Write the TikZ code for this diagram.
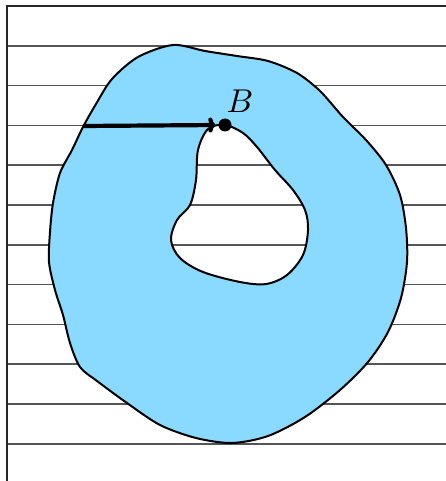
\documentclass[tikz,border=0pt]{standalone}
\usetikzlibrary{arrows.meta}
\definecolor{blobblue}{RGB}{138,217,255}
\definecolor{ruleline}{RGB}{85,85,85}
\begin{document}
\begin{tikzpicture}[x=1pt,y=-1pt,
  rulestyle/.style={draw=ruleline,line width=1.6pt},
  framestyle/.style={draw=black!85,line width=1.6pt},
  blobstyle/.style={draw=black,line width=2pt,fill=blobblue,even odd rule},
  arrowstyle/.style={draw=black,line width=4.2pt,-{Computer Modern Rightarrow[length=7pt,width=15pt]},shorten >=3pt},
  dotstyle/.style={circle,fill=black,inner sep=0pt,minimum size=13pt},
  labelstyle/.style={scale=3.3}]
\useasboundingbox (0,0) rectangle (446,481);
% rules
\foreach \k in {1,...,11}{
  \draw[rulestyle] (7,{6+39.8*\k}) -- (446,{6+39.8*\k});
}
\draw[framestyle] (446,6) -- (7,6) -- (7,481);
% blob with hole
\path[blobstyle]
  plot[smooth cycle,tension=0.5] coordinates {
   (173,45) (205,51) (237,56) (268,61) (297,73) (320,91) (343,117) (366,140)
   (386,165) (400,195) (406,228) (407,262) (401,298) (388,332) (368,362)
   (340,390) (305,417) (268,436) (232,443) (196,438) (160,425) (127,403)
   (97,381) (80,367) (70,343) (63,315) (55,290) (49,262) (50,232) (53,203)
   (60,173) (72,150) (83,127) (96,104) (112,79) (138,57)}
  plot[smooth cycle,tension=0.55] coordinates {
   (225,125) (243,133) (257,147) (275,170) (293,190) (305,210) (308,230)
   (303,255) (287,275) (266,284) (240,282) (203,272) (180,258) (171,240)
   (177,220) (190,205) (196,180) (198,150) (208,129)};
\coordinate (A) at (83,126);
\node[dotstyle] (B) at (225,125) {};
\draw[arrowstyle] (A) -- (B.west);
\node[labelstyle] (Blabel) at (240,101) {$B$};
\end{tikzpicture}
\end{document}
